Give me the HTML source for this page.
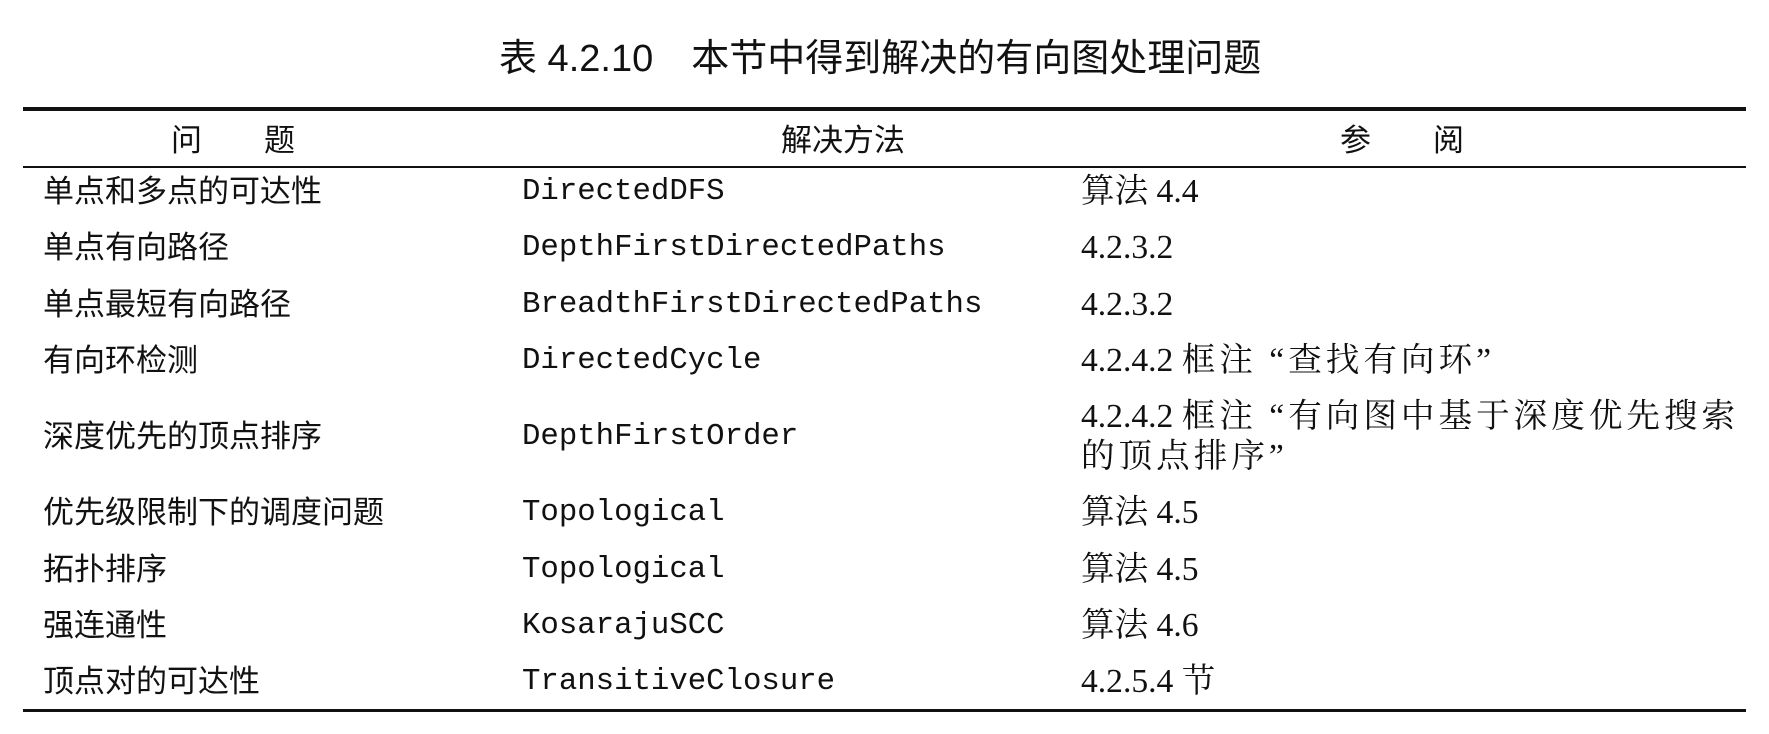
<!DOCTYPE html>
<html><head><meta charset="utf-8"><style>
body{margin:0;width:1769px;height:734px;background:#fff;position:relative;overflow:hidden;color:#111}
.t{position:absolute;white-space:nowrap;line-height:1}
.c{font-family:"Liberation Sans","Noto Sans CJK SC",sans-serif;font-size:31px}
.m{font-family:"Liberation Mono","DejaVu Sans Mono",monospace;font-size:30.7px}
.s{font-family:"Liberation Serif","Noto Serif CJK SC",serif;font-size:33.6px}
.k{letter-spacing:4px}
.line{position:absolute;left:23px;width:1723px;background:#111}
</style></head><body>
<div class="t c" style="left:499px;top:40px;font-size:38px">表 4.2.10　本节中得到解决的有向图处理问题</div>
<div class="line" style="top:107px;height:4px"></div>
<div class="t c" style="left:171px;top:125px">问　　题</div>
<div class="t c" style="left:781px;top:125px">解决方法</div>
<div class="t c" style="left:1340px;top:125px">参　　阅</div>
<div class="line" style="top:166px;height:2px"></div>

<div class="t c" style="left:43px;top:176px">单点和多点的可达性</div>
<div class="t m" style="left:522px;top:177px">DirectedDFS</div>
<div class="t s" style="left:1081px;top:175px">算法 4.4</div>

<div class="t c" style="left:43px;top:232px">单点有向路径</div>
<div class="t m" style="left:522px;top:233px">DepthFirstDirectedPaths</div>
<div class="t s" style="left:1081px;top:231px">4.2.3.2</div>

<div class="t c" style="left:43px;top:289px">单点最短有向路径</div>
<div class="t m" style="left:522px;top:290px">BreadthFirstDirectedPaths</div>
<div class="t s" style="left:1081px;top:288px">4.2.3.2</div>

<div class="t c" style="left:43px;top:345px">有向环检测</div>
<div class="t m" style="left:522px;top:346px">DirectedCycle</div>
<div class="t s" style="left:1081px;top:344px">4.2.4.2 <span class="k">框注 “查找有向环”</span></div>

<div class="t c" style="left:43px;top:421px">深度优先的顶点排序</div>
<div class="t m" style="left:522px;top:422px">DepthFirstOrder</div>
<div class="t s" style="left:1081px;top:400px">4.2.4.2 <span class="k">框注 “有向图中基于深度优先搜索</span></div>
<div class="t s" style="left:1081px;top:440px"><span class="k">的顶点排序”</span></div>

<div class="t c" style="left:43px;top:497px">优先级限制下的调度问题</div>
<div class="t m" style="left:522px;top:498px">Topological</div>
<div class="t s" style="left:1081px;top:496px">算法 4.5</div>

<div class="t c" style="left:43px;top:554px">拓扑排序</div>
<div class="t m" style="left:522px;top:555px">Topological</div>
<div class="t s" style="left:1081px;top:553px">算法 4.5</div>

<div class="t c" style="left:43px;top:610px">强连通性</div>
<div class="t m" style="left:522px;top:611px">KosarajuSCC</div>
<div class="t s" style="left:1081px;top:609px">算法 4.6</div>

<div class="t c" style="left:43px;top:666px">顶点对的可达性</div>
<div class="t m" style="left:522px;top:667px">TransitiveClosure</div>
<div class="t s" style="left:1081px;top:665px">4.2.5.4 节</div>
<div class="line" style="top:709px;height:3px"></div>
</body></html>
